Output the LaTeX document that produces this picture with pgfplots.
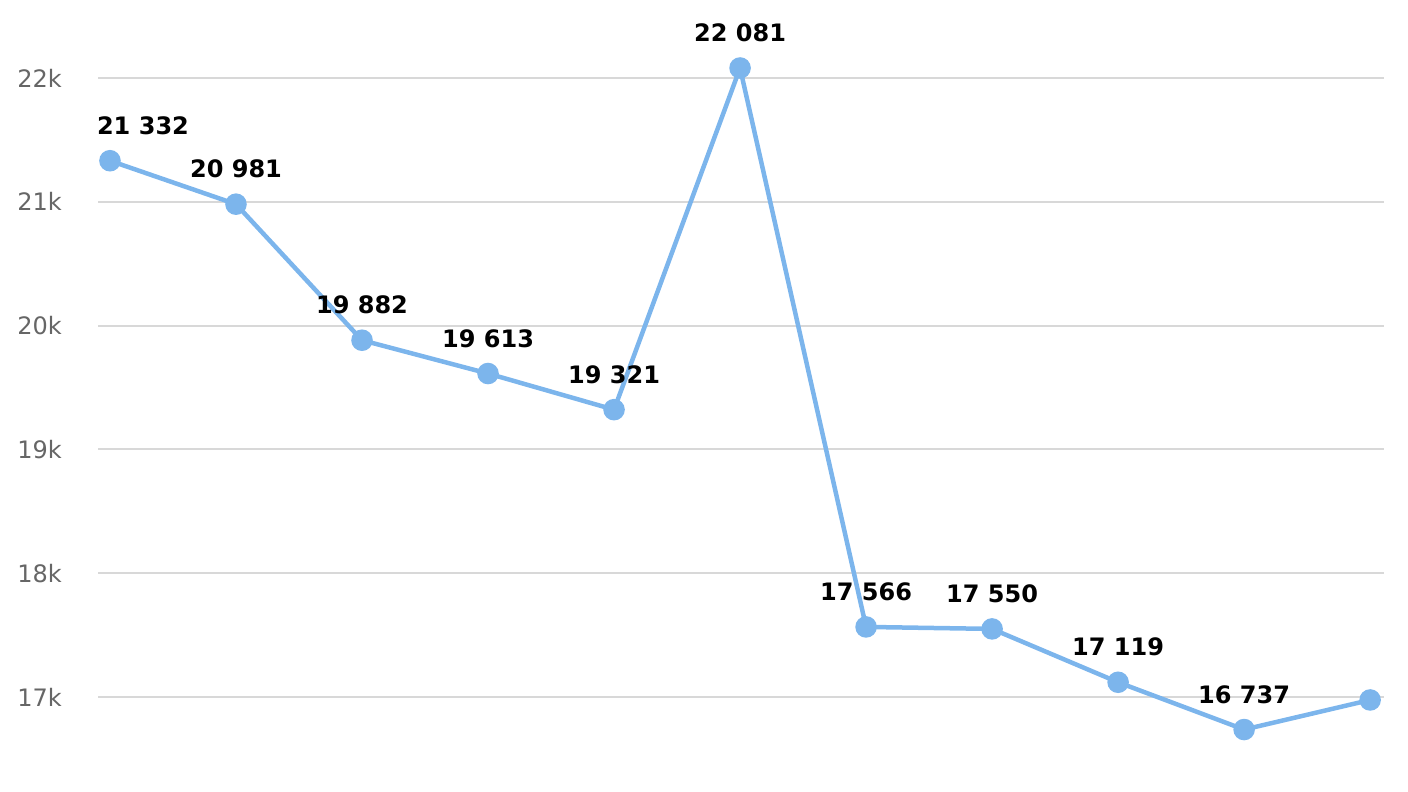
\documentclass[border=0pt]{standalone}
\usepackage{pgfplots}
\pgfplotsset{compat=1.18}
\usepackage{fontspec}
\setmainfont{DejaVu Sans}
\definecolor{seriesblue}{HTML}{7CB5EC}
\definecolor{gridgray}{HTML}{D8D8D8}
\definecolor{tickgray}{HTML}{666666}
\begin{document}
\fontsize{24}{28}\selectfont
\begin{tikzpicture}
\useasboundingbox (0,0) rectangle (1408pt,792pt);
\begin{axis}[
  at={(98pt,33.1pt)}, anchor=south west,
  scale only axis, width=1286pt, height=718pt,
  xmin=-0.095, xmax=10.11, ymin=16500, ymax=22300,
  xtick=\empty,
  ytick={17000,18000,19000,20000,21000,22000},
  yticklabels={17k,18k,19k,20k,21k,22k},
  scaled y ticks=false,
  axis line style={draw=none},
  major tick length=0pt,
  ymajorgrids,
  grid style={gridgray, line width=2pt},
  yticklabel style={font=\fontsize{24}{28}\selectfont, text=tickgray, inner sep=0pt, anchor=east, xshift=-36pt},
  clip=false,
  nodes near coords style={font=\bfseries\fontsize{24}{28}\selectfont, text=black, anchor=center, inner sep=0pt, yshift=35pt},
]
\addplot[seriesblue, line width=4.5pt, mark=*, mark size=8.5pt,
  mark options={fill=seriesblue, draw=none},
  point meta=explicit symbolic, nodes near coords]
coordinates {
  (0,21332) []
  (1,20981) [20 981]
  (2,19882) [19 882]
  (3,19613) [19 613]
  (4,19321) [19 321]
  (5,22081) [22 081]
  (6,17566) [17 566]
  (7,17550) [17 550]
  (8,17119) [17 119]
  (9,16737) [16 737]
  (10,16976) []
};
\addplot[draw=none, mark=none, point meta=explicit symbolic, nodes near coords,
  nodes near coords style={xshift=33pt}]
coordinates {
  (0,21332) [21 332]
};
\end{axis}
\end{tikzpicture}
\end{document}
